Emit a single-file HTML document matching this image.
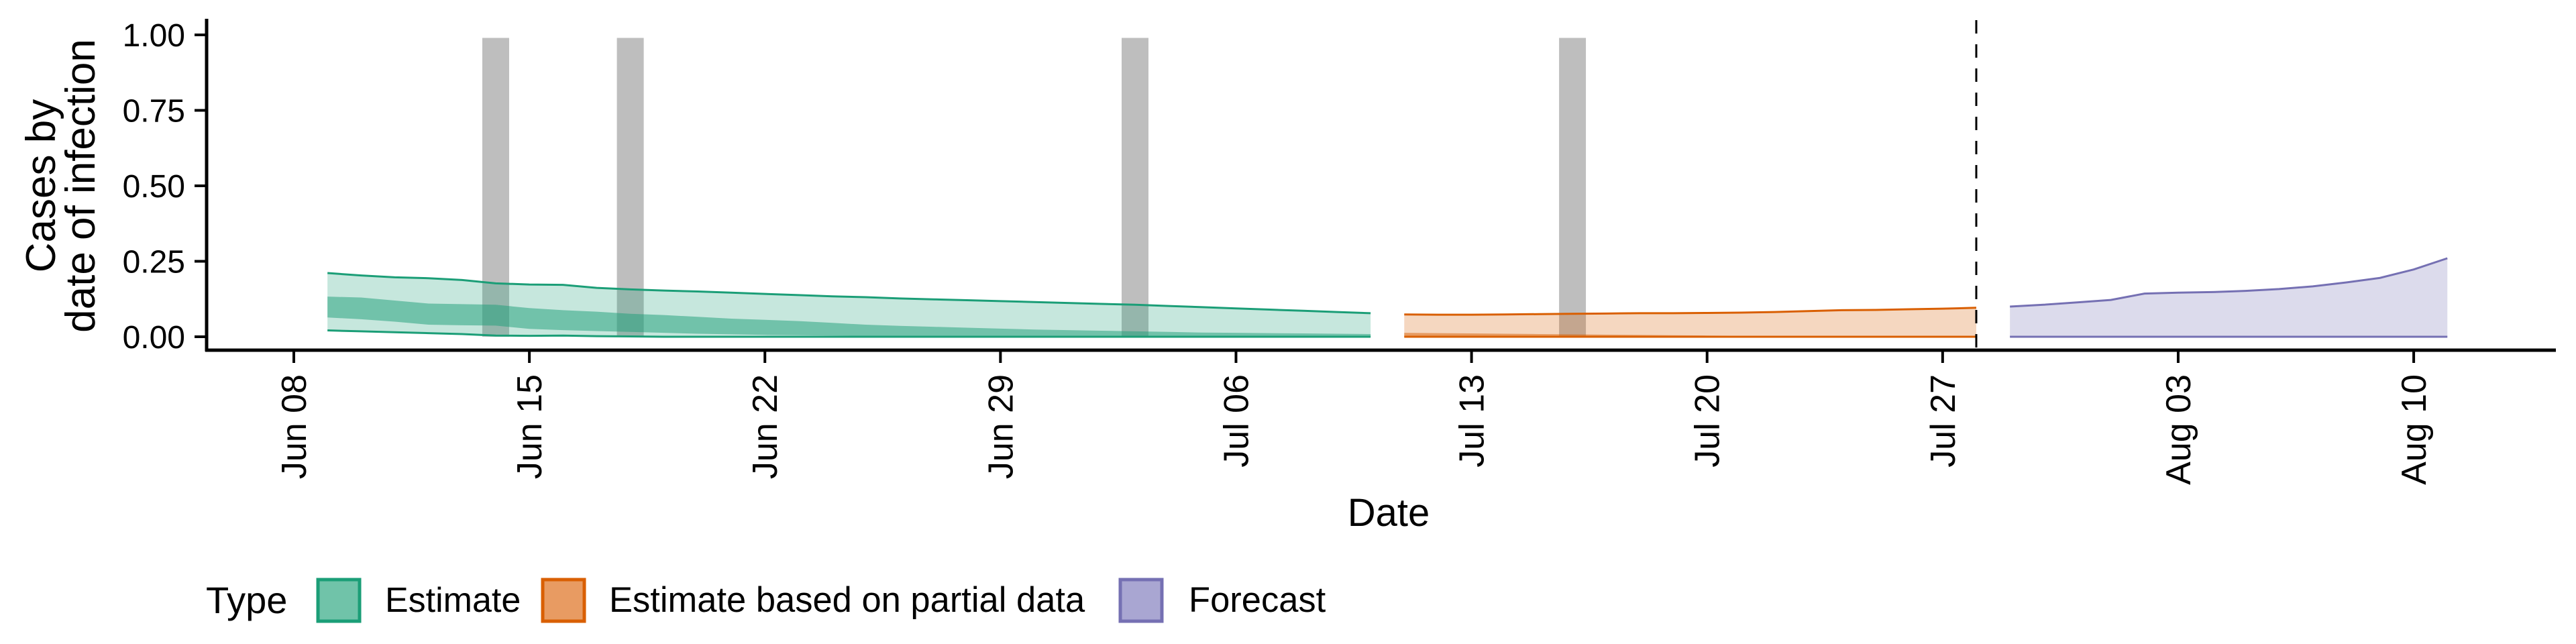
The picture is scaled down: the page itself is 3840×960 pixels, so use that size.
<!DOCTYPE html>
<html><head><meta charset="utf-8"><style>
html,body{margin:0;padding:0;background:#fff;}
svg{display:block;font-family:"Liberation Sans",sans-serif;}
</style></head><body>
<svg id="chart" width="3840" height="960" viewBox="0 0 3840 960" xmlns="http://www.w3.org/2000/svg">
<rect width="3840" height="960" fill="#fff"/>
<g id="bars"></g>
<g id="ribbons"></g>
<g id="axes"></g>
<text transform="translate(0,277) rotate(-90)" text-anchor="middle" font-size="62"><tspan x="0" y="82">Cases by</tspan><tspan x="0" y="141">date of infection</tspan></text>
<text x="2070" y="784" text-anchor="middle" font-size="58">Date</text>
<g>
<text x="307" y="914" font-size="56">Type</text>
<g>
<rect x="474" y="864" width="62" height="62" fill="#70c3a9" stroke="#1b9e77" stroke-width="5"/>
<text x="574" y="912" font-size="52">Estimate</text></g>
<g>
<rect x="809" y="864" width="62" height="62" fill="#e89b62" stroke="#d95f02" stroke-width="5"/>
<text x="908" y="912" font-size="52.5">Estimate based on partial data</text></g>
<g>
<rect x="1670" y="864" width="62" height="62" fill="#a9a6d2" stroke="#7570b3" stroke-width="5"/>
<text x="1772" y="912" font-size="52.5">Forecast</text></g>
</g>
</svg>
<script>
// data (days after Jun 08)
const xTickLabels = ["Jun 08","Jun 15","Jun 22","Jun 29","Jul 06","Jul 13","Jul 20","Jul 27","Aug 03","Aug 10"];
const xTickDays = [0,7,14,21,28,35,42,49,56,63];
const yTickValues = [0,0.25,0.5,0.75,1];
const yTickLabels = ["0.00","0.25","0.50","0.75","1.00"];
const barDays = [6,10,25,38];
const forecastDate = 50;
const estStart = 1;
const estUpper90 = [.211,.203,.197,.194,.188,.177,.173,.172,.162,.157,.153,.150,.146,.142,.138,.134,.131,.127,.124,.121,.118,.115,.112,.109,.106,.102,.098,.094,.090,.086,.082,.078];
const estLower90 = [.021,.018,.015,.012,.009,.004,.003,.004,.002,.001,0,0,0,0,0,0,0,0,0,0,0,0,0,0,0,0,0,0,0,0,0,0];
const estUpper50 = [.133,.130,.120,.110,.108,.106,.095,.088,.083,.076,.072,.066,.060,.056,.052,.046,.040,.036,.033,.030,.027,.024,.022,.020,.018,.016,.014,.013,.012,.011,.010,.009];
const estLower50 = [.064,.058,.050,.040,.038,.037,.026,.022,.019,.016,.013,.010,.008,.006,.005,.004,.003,.002,.002,.001,0,0,0,0,0,0,0,0,0,0,0,0];
const partStart = 33;
const partUpper90 = [.074,.073,.073,.074,.075,.076,.077,.078,.078,.079,.080,.082,.085,.088,.089,.091,.093,.096];
const partLower90 = [0,0,0,0,0,0,0,0,0,0,0,0,0,0,0,0,0,0];
const partUpper50 = [.013,.012,.011,.010,.009,.008,.007,.006,.005,.004,.003,.003,.002,.002,.001,.001,.001,.001];
const partLower50 = [0,0,0,0,0,0,0,0,0,0,0,0,0,0,0,0,0,0];
const fcStart = 51;
const fcUpper90 = [.100,.106,.114,.122,.143,.146,.148,.152,.158,.167,.180,.195,.223,.260];
const fcLower90 = [0,0,0,0,0,0,0,0,0,0,0,0,0,0];
const fcUpper50 = [.003,.003,.002,.002,.002,.002,.002,.002,.002,.002,.002,.002,.002,.002];
const fcLower50 = [0,0,0,0,0,0,0,0,0,0,0,0,0,0];

const NS="http://www.w3.org/2000/svg";
const X0=438, PX_DAY=50.16, Y0=502, Y1=52;
const xs=d=>X0+d*PX_DAY;
const ys=v=>Y0-v*(Y0-Y1);
function mk(tag,attrs,parent){const e=document.createElementNS(NS,tag);for(const k in attrs)e.setAttribute(k,attrs[k]);parent.appendChild(e);return e;}
const bars=document.getElementById('bars'),rib=document.getElementById('ribbons'),axes=document.getElementById('axes');

barDays.forEach(d=>{
  const r=mk('rect',{x:xs(d)-20,y:ys(0.99),width:40,height:ys(0)-ys(0.99),fill:'#bebebe'},bars);
  
  
});

function ribbon(start,up,lo,fill,name){
  let p='';
  up.forEach((v,i)=>{p+=(i?'L':'M')+xs(start+i)+','+ys(v);});
  for(let i=lo.length-1;i>=0;i--)p+='L'+xs(start+i)+','+ys(lo[i]);
  const e=mk('path',{d:p+'Z',fill:fill},rib);
  
  
}
function line(start,arr,color,name){
  const e=mk('polyline',{points:arr.map((v,i)=>xs(start+i)+','+ys(v)).join(' '),fill:'none',stroke:color,'stroke-width':3},rib);
  
  
}
const series=[
 [estStart,estUpper90,estLower90,estUpper50,estLower50,'#1b9e77','estimate'],
 [partStart,partUpper90,partLower90,partUpper50,partLower50,'#d95f02','partial'],
 [fcStart,fcUpper90,fcLower90,fcUpper50,fcLower50,'#7570b3','forecast']];
series.forEach(s=>{
  const c=s[5];
  ribbon(s[0],s[1],s[2],c+'40',s[6]+'-ribbon-90');
  ribbon(s[0],s[3],s[4],c+'80',s[6]+'-ribbon-50');
  line(s[0],s[1],c,s[6]+'-upper-line');
  line(s[0],s[2],c,s[6]+'-lower-line');
});

const dl=mk('line',{x1:xs(forecastDate),x2:xs(forecastDate),y1:30,y2:522,stroke:'#000','stroke-width':3,'stroke-dasharray':'20,16'},axes);



const ya=mk('line',{x1:308,x2:308,y1:28,y2:524,stroke:'#000','stroke-width':5},axes);


const xa=mk('line',{x1:306,x2:3810,y1:522,y2:522,stroke:'#000','stroke-width':5},axes);



yTickValues.forEach((v,i)=>{
  const t=mk('line',{x1:290,x2:308,y1:ys(v),y2:ys(v),stroke:'#000','stroke-width':4},axes);
  
  
  const l=mk('text',{x:276,y:ys(v)+17,'text-anchor':'end','font-size':48},axes);
  l.textContent=yTickLabels[i];
  
  
});
xTickDays.forEach((d,i)=>{
  const t=mk('line',{x1:xs(d),x2:xs(d),y1:522,y2:541,stroke:'#000','stroke-width':4},axes);
  
  
  const l=mk('text',{x:0,y:0,transform:'translate('+(xs(d)+18)+',558) rotate(-90)','text-anchor':'end','font-size':52},axes);
  l.textContent=xTickLabels[i];
  
  
});
</script>
</body></html>
